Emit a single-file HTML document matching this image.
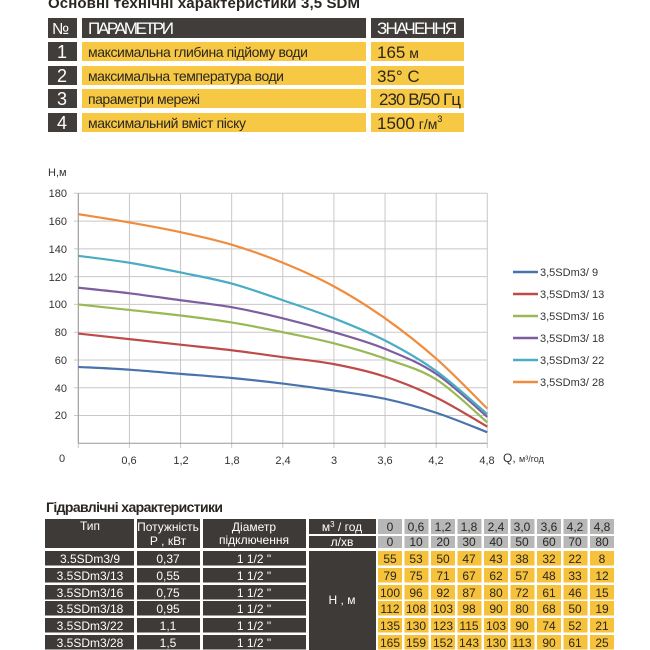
<!DOCTYPE html>
<html><head><meta charset="utf-8"><style>
body{margin:0;background:#fff;width:650px;height:650px;overflow:hidden}
svg{display:block}
text{font-family:"Liberation Sans Narrow","Liberation Sans",sans-serif}
.w{fill:#fff}.d{fill:#2a2622}
</style></head><body>
<svg id="s" width="650" height="650" viewBox="0 0 650 650" xmlns="http://www.w3.org/2000/svg">
<text x="48" y="8" font-size="15" font-weight="bold" fill="#2a2622" textLength="312">Основні технічні характеристики 3,5 SDM</text>
<g>
<rect x="48" y="18" width="29" height="20" fill="#403d3a"/>
<rect x="82" y="18" width="284" height="20" fill="#403d3a"/>
<rect x="371" y="18" width="93" height="20" fill="#403d3a"/>
<text x="52" y="34" font-size="16" class="w">№</text>
<text x="88" y="34" font-size="17" class="w" textLength="86">ПАРАМЕТРИ</text>
<text x="377" y="34" font-size="17" class="w" textLength="80">ЗНАЧЕННЯ</text>
<rect x="48" y="42" width="29" height="19" fill="#403d3a"/><rect x="82" y="42" width="284" height="19" fill="#f7c843"/><rect x="371" y="42" width="93" height="19" fill="#f7c843"/>
<rect x="48" y="66" width="29" height="19" fill="#403d3a"/><rect x="82" y="66" width="284" height="19" fill="#f7c843"/><rect x="371" y="66" width="93" height="19" fill="#f7c843"/>
<rect x="48" y="89" width="29" height="19" fill="#403d3a"/><rect x="82" y="89" width="284" height="19" fill="#f7c843"/><rect x="371" y="89" width="93" height="19" fill="#f7c843"/>
<rect x="48" y="113" width="29" height="19" fill="#403d3a"/><rect x="82" y="113" width="284" height="19" fill="#f7c843"/><rect x="371" y="113" width="93" height="19" fill="#f7c843"/>
<text x="57" y="58" font-size="18" class="w">1</text><text x="57" y="82" font-size="18" class="w">2</text><text x="57" y="105" font-size="18" class="w">3</text><text x="57" y="129" font-size="18" class="w">4</text>
<text x="88" y="57" font-size="14" class="d" textLength="220">максимальна глибина підйому води</text>
<text x="88" y="81" font-size="14" class="d" textLength="196">максимальна температура води</text>
<text x="88" y="104" font-size="14" class="d" textLength="112">параметри мережі</text>
<text x="88" y="128" font-size="14" class="d" textLength="158">максимальний вміст піску</text>
<text x="377" y="58" font-size="17" class="d">165<tspan font-size="14"> м</tspan></text>
<text x="377" y="82" font-size="17" class="d">35° C</text>
<text x="379" y="105" font-size="17" class="d" textLength="82">230 В/50 Гц</text>
<text x="377" y="129" font-size="17" class="d">1500<tspan font-size="14"> г/м</tspan><tspan font-size="9" dy="-7">3</tspan></text>
</g>
<g id="grid" stroke="#c8c8c8" stroke-width="1"></g>
<g font-size="11" fill="#333" style="font-family:'Liberation Sans',sans-serif">
<text x="48" y="176" font-size="11">Н,м</text>
<g text-anchor="end">
<text x="67" y="197">180</text><text x="67" y="225">160</text><text x="67" y="253">140</text><text x="67" y="281">120</text><text x="67" y="308">100</text><text x="67" y="336">80</text><text x="67" y="364">60</text><text x="67" y="392">40</text><text x="67" y="419">20</text>
</g>
<g text-anchor="middle">
<text x="62" y="462">0</text><text x="129" y="464">0,6</text><text x="181" y="464">1,2</text><text x="232" y="464">1,8</text><text x="283" y="464">2,4</text><text x="334" y="464">3</text><text x="385" y="464">3,6</text><text x="436" y="464">4,2</text><text x="487" y="464">4,8</text>
</g>
<text x="503" y="462" font-size="12">Q, <tspan font-size="9">м³/год</tspan></text>
</g>
<g id="curves" fill="none" stroke-width="2.2"></g>
<g id="leg" font-size="11" fill="#333" style="font-family:'Liberation Sans',sans-serif">
<text x="540" y="276">3,5SDm3/ 9</text><text x="540" y="298">3,5SDm3/ 13</text><text x="540" y="320">3,5SDm3/ 16</text><text x="540" y="342">3,5SDm3/ 18</text><text x="540" y="364">3,5SDm3/ 22</text><text x="540" y="386">3,5SDm3/ 28</text>
</g>
<text x="46" y="512" font-size="14" font-weight="bold" class="d" textLength="177">Гідравлічні характеристики</text>
<g fill="#3d3a37">
<rect x="45" y="519" width="89" height="29"/><rect x="137" y="519" width="63" height="29"/><rect x="203" y="519" width="103" height="29"/>
<rect x="309" y="519" width="67" height="15"/><rect x="309" y="536" width="67" height="12"/>
<rect x="309" y="551" width="67" height="99"/>
</g>
<g id="brows" fill="#3d3a37"></g>
<g id="cells"></g>
<g font-size="12" class="w" text-anchor="middle">
<text x="90" y="530">Тип</text>
<text x="168" y="531">Потужність</text><text x="168" y="545">Р , кВт</text>
<text x="254" y="531">Діаметр</text><text x="254" y="544">підключення</text>
<text x="342" y="531">м<tspan font-size="8" dy="-4">3</tspan><tspan dy="4"> / год</tspan></text>
<text x="342" y="546">л/хв</text>
<text x="342" y="604">Н , м</text>
<text x="90" y="563">3.5SDm3/9</text><text x="90" y="580">3.5SDm3/13</text><text x="90" y="597">3.5SDm3/16</text><text x="90" y="613">3.5SDm3/18</text><text x="90" y="630">3.5SDm3/22</text><text x="90" y="647">3.5SDm3/28</text>
<text x="168" y="563">0,37</text><text x="168" y="580">0,55</text><text x="168" y="597">0,75</text><text x="168" y="613">0,95</text><text x="168" y="630">1,1</text><text x="168" y="647">1,5</text>
<text x="254" y="563">1 1/2 "</text><text x="254" y="580">1 1/2 "</text><text x="254" y="597">1 1/2 "</text><text x="254" y="613">1 1/2 "</text><text x="254" y="630">1 1/2 "</text><text x="254" y="647">1 1/2 "</text>
</g>
<g font-size="12" class="d" text-anchor="middle">
<g><text x="390" y="531">0</text><text x="416" y="531">0,6</text><text x="443" y="531">1,2</text><text x="469" y="531">1,8</text><text x="496" y="531">2,4</text><text x="522" y="531">3,0</text><text x="549" y="531">3,6</text><text x="575" y="531">4,2</text><text x="602" y="531">4,8</text></g>
<g><text x="390" y="546">0</text><text x="416" y="546">10</text><text x="443" y="546">20</text><text x="469" y="546">30</text><text x="496" y="546">40</text><text x="522" y="546">50</text><text x="549" y="546">60</text><text x="575" y="546">70</text><text x="602" y="546">80</text></g>
<g><text x="390" y="563">55</text><text x="416" y="563">53</text><text x="443" y="563">50</text><text x="469" y="563">47</text><text x="496" y="563">43</text><text x="522" y="563">38</text><text x="549" y="563">32</text><text x="575" y="563">22</text><text x="602" y="563">8</text></g>
<g><text x="390" y="580">79</text><text x="416" y="580">75</text><text x="443" y="580">71</text><text x="469" y="580">67</text><text x="496" y="580">62</text><text x="522" y="580">57</text><text x="549" y="580">48</text><text x="575" y="580">33</text><text x="602" y="580">12</text></g>
<g><text x="390" y="597">100</text><text x="416" y="597">96</text><text x="443" y="597">92</text><text x="469" y="597">87</text><text x="496" y="597">80</text><text x="522" y="597">72</text><text x="549" y="597">61</text><text x="575" y="597">46</text><text x="602" y="597">15</text></g>
<g><text x="390" y="613">112</text><text x="416" y="613">108</text><text x="443" y="613">103</text><text x="469" y="613">98</text><text x="496" y="613">90</text><text x="522" y="613">80</text><text x="549" y="613">68</text><text x="575" y="613">50</text><text x="602" y="613">19</text></g>
<g><text x="390" y="630">135</text><text x="416" y="630">130</text><text x="443" y="630">123</text><text x="469" y="630">115</text><text x="496" y="630">103</text><text x="522" y="630">90</text><text x="549" y="630">74</text><text x="575" y="630">52</text><text x="602" y="630">21</text></g>
<g><text x="390" y="647">165</text><text x="416" y="647">159</text><text x="443" y="647">152</text><text x="469" y="647">143</text><text x="496" y="647">130</text><text x="522" y="647">113</text><text x="549" y="647">90</text><text x="575" y="647">61</text><text x="602" y="647">25</text></g>
</g>
</svg>
<script>
var NS="http://www.w3.org/2000/svg";
function el(p,t,a){var e=document.createElementNS(NS,t);for(var k in a)e.setAttribute(k,a[k]);p.appendChild(e);return e;}
var X0=78.3,XW=409,Y0=443.3,K=250/180;
var g=document.getElementById("grid");
for(var i=0;i<=8;i++){var x=X0+i*XW/8;el(g,"line",{x1:x,x2:x,y1:193.3,y2:448});}
for(var j=1;j<=9;j++){var y=Y0-j*20*K;el(g,"line",{x1:74,x2:X0+XW,y1:y,y2:y});}
el(g,"line",{x1:X0,x2:X0+XW,y1:Y0,y2:Y0,stroke:"#999"});
el(g,"line",{x1:X0,x2:X0,y1:193.3,y2:Y0,stroke:"#999"});
var D=[[55,53,50,47,43,38,32,22,8],[79,75,71,67,62,57,48,33,12],[100,96,92,87,80,72,61,46,15],[112,108,103,98,90,80,68,50,19],[135,130,123,115,103,90,74,52,21],[165,159,152,143,130,113,90,61,25]];
var C=["#4a72ad","#be4b48","#98b954","#7d5fa0","#4aacc5","#f08c3e"];
var cv=document.getElementById("curves"),lg=document.getElementById("leg");
D.forEach(function(r,k){var P=r.map(function(h,i){return[X0+i*XW/8,Y0-h*K]});
var d="M"+P[0];for(var i=0;i<P.length-1;i++){var p0=P[Math.max(0,i-1)],p1=P[i],p2=P[i+1],p3=P[Math.min(P.length-1,i+2)];
d+="C"+(p1[0]+(p2[0]-p0[0])/6)+","+(p1[1]+(p2[1]-p0[1])/6)+" "+(p2[0]-(p3[0]-p1[0])/6)+","+(p2[1]-(p3[1]-p1[1])/6)+" "+p2;}
el(cv,"path",{d:d,stroke:C[k]});
el(lg,"line",{x1:513,x2:538,y1:272+22*k,y2:272+22*k,stroke:C[k],"stroke-width":2.5});});
var br=document.getElementById("brows");
var ys=[551,568,585,601,618,635];
ys.forEach(function(y){el(br,"rect",{x:45,y:y,width:89,height:14.5});el(br,"rect",{x:137,y:y,width:63,height:14.5});el(br,"rect",{x:203,y:y,width:103,height:14.5});});
var ce=document.getElementById("cells");
for(var c=0;c<9;c++){var x=378+c*26.5;
el(ce,"rect",{x:x,y:519,width:24,height:15,fill:"#b7b7b7"});el(ce,"rect",{x:x,y:536,width:24,height:12,fill:"#b7b7b7"});
ys.forEach(function(y){el(ce,"rect",{x:x,y:y,width:24,height:14.5,fill:"#f6c23c"});});}
</script>
</body></html>
